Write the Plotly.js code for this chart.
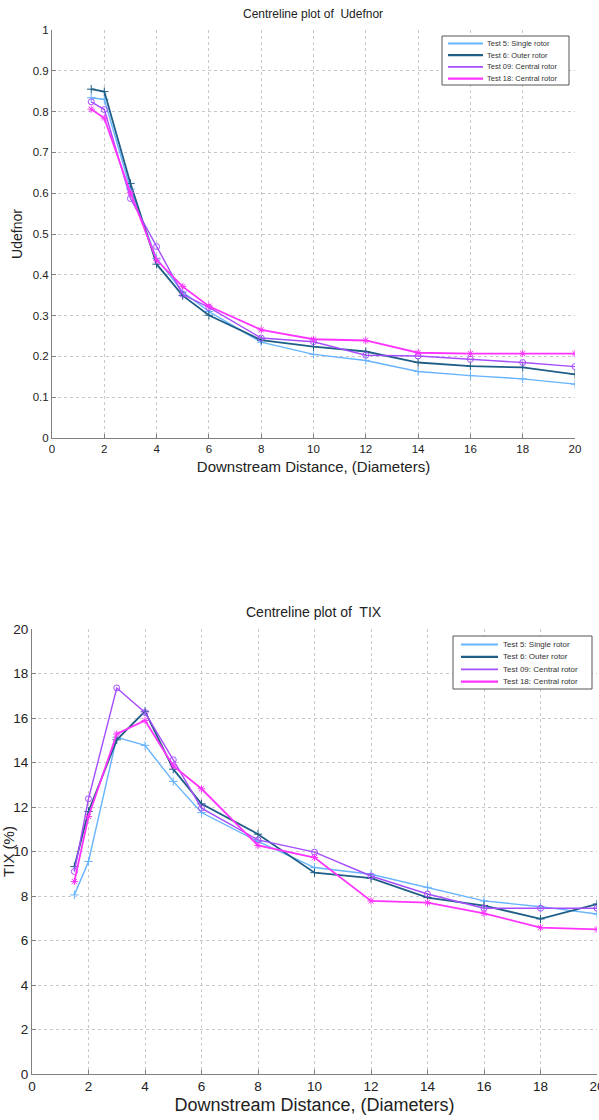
<!DOCTYPE html>
<html>
<head>
<meta charset="utf-8">
<script src="https://cdn.plot.ly/plotly-3.0.1.min.js"></script>
<style>html,body{margin:0;padding:0;background:#fff;}#chart{width:599px;height:1120px;}</style>
</head>
<body>
<div id="chart"></div>
<script>
const distance = [1.5, 2, 3, 4, 5, 6, 8, 10, 12, 14, 16, 18, 20];
const seriesNames = ["Test 5: Single rotor", "Test 6: Outer rotor", "Test 09: Central rotor", "Test 18: Central rotor"];

const udefTest5  = [0.834, 0.830, 0.610, 0.440, 0.358, 0.310, 0.235, 0.205, 0.190, 0.163, 0.153, 0.145, 0.132];
const udefTest6  = [0.855, 0.849, 0.624, 0.426, 0.349, 0.301, 0.240, 0.224, 0.212, 0.185, 0.176, 0.173, 0.156];
const udefTest09 = [0.824, 0.805, 0.587, 0.469, 0.352, 0.320, 0.245, 0.236, 0.203, 0.201, 0.193, 0.185, 0.175];
const udefTest18 = [0.806, 0.784, 0.601, 0.436, 0.371, 0.323, 0.265, 0.242, 0.239, 0.209, 0.207, 0.207, 0.207];

const tixTest5  = [8.05, 9.55, 15.13, 14.77, 13.15, 11.75, 10.45, 9.28, 8.98, 8.39, 7.78, 7.52, 7.19];
const tixTest6  = [9.32, 11.8, 15.02, 16.30, 13.70, 12.14, 10.78, 9.05, 8.80, 7.93, 7.57, 6.97, 7.64];
const tixTest09 = [9.10, 12.37, 17.35, 16.25, 14.12, 11.95, 10.52, 9.97, 8.90, 8.09, 7.45, 7.45, 7.45];
const tixTest18 = [8.65, 11.57, 15.28, 15.89, 13.85, 12.82, 10.27, 9.73, 7.78, 7.70, 7.22, 6.58, 6.50];

const xTicks = [0, 2, 4, 6, 8, 10, 12, 14, 16, 18, 20];
const udefTicks = [0, 0.1, 0.2, 0.3, 0.4, 0.5, 0.6, 0.7, 0.8, 0.9, 1];
const udefTickText = ["0", "0.1", "0.2", "0.3", "0.4", "0.5", "0.6", "0.7", "0.8", "0.9", "1"];
const tixTicks = [0, 2, 4, 6, 8, 10, 12, 14, 16, 18, 20];

const colors = ["#66b3ff", "#1f5f87", "#a64dff", "#ff33ff"];
const widths = [1.4, 1.8, 1.4, 1.8];
const symbols = ["cross-thin-open", "cross-thin-open", "circle-open", "asterisk-open"];

const udefSeries = [udefTest5, udefTest6, udefTest09, udefTest18];
const tixSeries = [tixTest5, tixTest6, tixTest09, tixTest18];

const traces = [];
function addGroup(series, xa, ya) {
  series.forEach((vals, i) => {
    traces.push({
      x: distance, y: vals, xaxis: xa, yaxis: ya, type: "scatter", mode: "lines+markers",
      name: seriesNames[i],
      line: {color: colors[i], width: widths[i]},
      marker: {symbol: symbols[i], size: 6, color: colors[i], line: {color: colors[i], width: 1}},
      showlegend: false, hoverinfo: "skip"
    });
  });
}
addGroup(udefSeries, "x", "y");
addGroup(tixSeries, "x2", "y2");

const W = 599, H = 1120;
const fontFam = "Liberation Sans, Arial, sans-serif";
function axisStyle(tickSize) {
  return {showgrid: true, gridcolor: "#c8c8c8", griddash: "dot", gridwidth: 1, zeroline: false,
    showline: true, linecolor: "#808080", linewidth: 1, ticks: "inside", ticklen: 4, tickcolor: "#808080",
    ticklabeloverflow: "allow",
    tickfont: {family: fontFam, size: tickSize, color: "#222"}};
}

// legend drawn as a boxed key: box, sample lines, labels
const shapes = [];
const annotations = [];
function addLegend(box, lineX0, lineX1, textX, rowY, fontSize) {
  shapes.push({type: "rect", xref: "paper", yref: "paper", x0: box[0]/W, x1: box[1]/W, y0: 1 - box[3]/H, y1: 1 - box[2]/H,
    line: {color: "#555", width: 1}, fillcolor: "#ffffff", layer: "above"});
  seriesNames.forEach((name, i) => {
    const yy = 1 - (rowY[0] + i * rowY[1]) / H;
    shapes.push({type: "line", xref: "paper", yref: "paper", x0: lineX0/W, x1: lineX1/W, y0: yy, y1: yy,
      line: {color: colors[i], width: widths[i] + 0.4}, layer: "above"});
    annotations.push({text: name, xref: "paper", yref: "paper", x: textX/W, y: yy, xanchor: "left", yanchor: "middle",
      showarrow: false, font: {family: fontFam, size: fontSize, color: "#333"}});
  });
}
addLegend([442, 569, 36, 85], 448, 483, 485, [43.5, 11.7], 7.5);
addLegend([453, 592, 636, 689], 461, 498, 501, [644.5, 12.4], 8);

annotations.push(
  {text: "Centreline plot of  Udefnor", xref: "paper", yref: "paper", x: 313/W, y: 1 - 14/H, xanchor: "center", yanchor: "middle",
    showarrow: false, font: {family: fontFam, size: 12, color: "#222"}},
  {text: "Centreline plot of  TIX", xref: "paper", yref: "paper", x: 314/W, y: 1 - 612/H, xanchor: "center", yanchor: "middle",
    showarrow: false, font: {family: fontFam, size: 14, color: "#222"}}
);

const layout = {
  width: W, height: H, margin: {l: 0, r: 0, t: 0, b: 0},
  paper_bgcolor: "#fff", plot_bgcolor: "#fff", showlegend: false,
  xaxis: Object.assign(axisStyle(11.5), {domain: [52/W, 575/W], range: [0, 20], tickvals: xTicks, anchor: "y",
    title: {text: "Downstream Distance, (Diameters)", font: {family: fontFam, size: 15, color: "#222"}, standoff: 7}}),
  yaxis: Object.assign(axisStyle(11.5), {domain: [1 - 438/H, 1 - 30/H], range: [0, 1], tickvals: udefTicks, ticktext: udefTickText, anchor: "x",
    title: {text: "Udefnor", font: {family: fontFam, size: 14, color: "#222"}, standoff: 6}}),
  xaxis2: Object.assign(axisStyle(13.5), {domain: [32/W, 597/W], range: [0, 20], tickvals: xTicks, anchor: "y2",
    title: {text: "Downstream Distance, (Diameters)", font: {family: fontFam, size: 18, color: "#222"}, standoff: 5}}),
  yaxis2: Object.assign(axisStyle(13.5), {domain: [1 - 1074/H, 1 - 629/H], range: [0, 20], tickvals: tixTicks, anchor: "x2",
    title: {text: "TIX (%)", font: {family: fontFam, size: 15, color: "#222"}, standoff: 8}}),
  shapes: shapes,
  annotations: annotations
};

Plotly.newPlot("chart", traces, layout, {displayModeBar: false, staticPlot: true});
</script>
</body>
</html>
